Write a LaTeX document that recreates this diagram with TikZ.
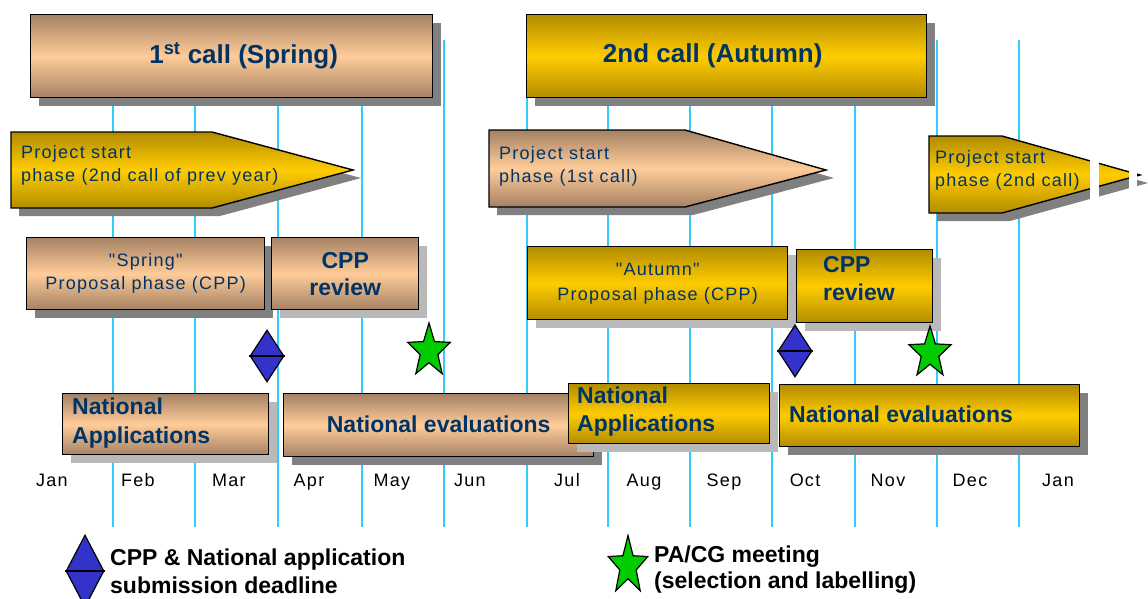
\documentclass[tikz,border=0pt]{standalone}
\usepackage{fontspec}
\setmainfont{Liberation Sans}
\newfontfamily\spfont[LetterSpace=7]{Liberation Sans}
\usetikzlibrary{shapes.geometric,shadows}
\definecolor{peachc}{RGB}{255,204,153}
\definecolor{peache}{RGB}{165,130,100}
\definecolor{goldc}{RGB}{255,204,0}
\definecolor{golde}{RGB}{178,140,0}
\definecolor{navy}{RGB}{0,51,102}
\definecolor{vline}{RGB}{51,204,255}
\definecolor{dblue}{RGB}{51,51,204}
\definecolor{sgreen}{RGB}{0,204,0}
\definecolor{shd}{RGB}{128,128,128}
\definecolor{shdl}{RGB}{185,185,185}
\newcommand\fsz[2]{\fontsize{#1}{#2}\selectfont}
\begin{document}
\begin{tikzpicture}[x=1pt,y=-1pt,
  box/.style={draw=black, line width=1.4pt, inner sep=0pt, anchor=north west, text=navy},
  peachbox/.style={box, top color=peache, bottom color=peache, middle color=peachc},
  goldbox/.style={box, top color=golde, bottom color=golde, middle color=goldc},
  peachfill/.style={draw=black, line width=1.4pt, top color=peache, bottom color=peache, middle color=peachc},
  goldfill/.style={draw=black, line width=1.4pt, top color=golde, bottom color=golde, middle color=goldc},
  sh/.style={drop shadow={shadow xshift=8pt, shadow yshift=-8pt, fill=shd, opacity=1}},
  shl/.style={drop shadow={shadow xshift=8pt, shadow yshift=-8pt, fill=shdl, opacity=1}},
  titletxt/.style={font=\bfseries\fsz{26}{30}},
  boldtxt/.style={font=\bfseries\fsz{23}{28}, text=navy},
  regtxt/.style={font=\spfont\fsz{18}{23}, text=navy},
  lefttxt/.style={anchor=west, align=left, inner sep=0pt},
  month/.style={font=\spfont\fsz{18}{22}, text=black, inner sep=0pt, anchor=base},
  legtxt/.style={font=\bfseries\fsz{23}{28}, text=black, anchor=west, align=left, inner sep=0pt},
  deadline/.style={diamond, draw=black, line width=1.2pt, fill=dblue, inner sep=0pt},
  meeting/.style={star, star points=5, star point ratio=2.4, draw=black, line width=1.2pt, fill=sgreen, inner sep=0pt}
]
\useasboundingbox (0,0) rectangle (1148,598);

% month grid lines
\foreach \x in {113,195,278,362,444,527,608,690,772,855,937,1019}
  \draw[vline, line width=1.6pt] (\x,40) -- (\x,527);

% call titles
\node[peachbox, sh, titletxt, minimum width=402pt, minimum height=83pt] (call1) at (30,14)
  {\hspace*{24pt}1\textsuperscript{st} call (Spring)};
\node[goldbox, sh, titletxt, minimum width=400pt, minimum height=83pt] (call2) at (526,14)
  {\hspace*{-28pt}2nd call (Autumn)};

% project start phases
\fill[shd, shift={(8,8)}] (11,132) -- (212,132) -- (353,170) -- (212,208) -- (11,208) -- cycle;
\draw[goldfill] (11,132) -- (212,132) -- (353,170) -- (212,208) -- (11,208) -- cycle;
\node[regtxt, lefttxt] (ps1) at (21,165) {Project start\\phase (2nd call of prev year)};

\fill[shd, shift={(8,8)}] (489,130) -- (685,130) -- (826,170) -- (685,207) -- (489,207) -- cycle;
\draw[peachfill] (489,130) -- (685,130) -- (826,170) -- (685,207) -- (489,207) -- cycle;
\node[regtxt, lefttxt] (ps2) at (499,166) {Project start\\phase (1st call)};

\fill[shd, shift={(8,8)}] (929,136) -- (1002,136) -- (1140,175) -- (1002,213) -- (929,213) -- cycle;
\draw[goldfill] (929,136) -- (1002,136) -- (1140,175) -- (1002,213) -- (929,213) -- cycle;
\fill[white] (1090,140) rectangle (1099,225);
\fill[white] (1129,140) rectangle (1137,225);
\node[regtxt, lefttxt] (ps3) at (935,170) {Project start\\phase (2nd call)};

% spring call
\node[peachbox, sh, regtxt, align=center, minimum width=238pt, minimum height=72pt] (spp) at (26,237)
  {"Spring"\\Proposal phase (CPP)};
\node[peachbox, shl, boldtxt, align=center, font=\bfseries\fsz{23}{27}, minimum width=147pt, minimum height=72pt] (spr) at (271,237)
  {CPP\\review};
\node[peachbox, shl, minimum width=206pt, minimum height=61pt] (sna) at (62,393) {};
\node[boldtxt, lefttxt, font=\bfseries\fsz{23}{29}] (snat) at (72,423) {National\\Applications};
\node[peachbox, sh, boldtxt, minimum width=310pt, minimum height=63pt] (sne) at (283,393)
  {\raisebox{2pt}{National evaluations}};

% autumn call
\node[goldbox, shl, regtxt, align=center, font=\spfont\fsz{18}{25}, minimum width=260pt, minimum height=73pt] (app) at (527,246)
  {"Autumn"\\Proposal phase (CPP)};
\node[goldbox, shl, minimum width=136pt, minimum height=73pt] (apr) at (796,249) {};
\node[boldtxt, lefttxt] (aprt) at (823,279) {CPP\\review};
\node[goldbox, shl, minimum width=201pt, minimum height=60pt] (ana) at (568,383) {};
\node[boldtxt, lefttxt] (anat) at (577,412) {National\\Applications};
\node[goldbox, sh, minimum width=300pt, minimum height=62pt] (ane) at (779,384) {};
\node[boldtxt, lefttxt] (anet) at (789,414) {National evaluations};

% deadlines and meetings
\node[deadline, minimum width=34pt, minimum height=52pt] (d1) at (267,356) {};
\draw[line width=1.4pt] (d1.west) -- (d1.east);
\node[deadline, minimum width=34pt, minimum height=52pt] (d2) at (795,351) {};
\draw[line width=1.4pt] (d2.west) -- (d2.east);
\node[meeting, minimum size=56pt, xscale=0.8] (s1) at (429,351) {};
\node[meeting, minimum size=54pt, xscale=0.82] (s2) at (930,353) {};

% months
\foreach \x/\m [count=\i] in {52/Jan,138/Feb,229/Mar,309/Apr,392/May,470/Jun,567/Jul,644/Aug,724/Sep,805/Oct,888/Nov,970/Dec,1058/Jan}
  \node[month] (m\i) at (\x,486) {\m};

% legend
\node[deadline, minimum width=38pt, minimum height=72pt] (ld) at (85,571) {};
\draw[line width=1.4pt] (ld.west) -- (ld.east);
\node[legtxt] (ldt) at (110,571) {CPP \& National application\\submission deadline};
\node[meeting, minimum size=61pt, xscale=0.68] (ls) at (628,566) {};
\node[legtxt, font=\bfseries\fsz{23}{26}] (lst) at (654,570) {PA/CG meeting\\(selection and labelling)};
\end{tikzpicture}
\end{document}
